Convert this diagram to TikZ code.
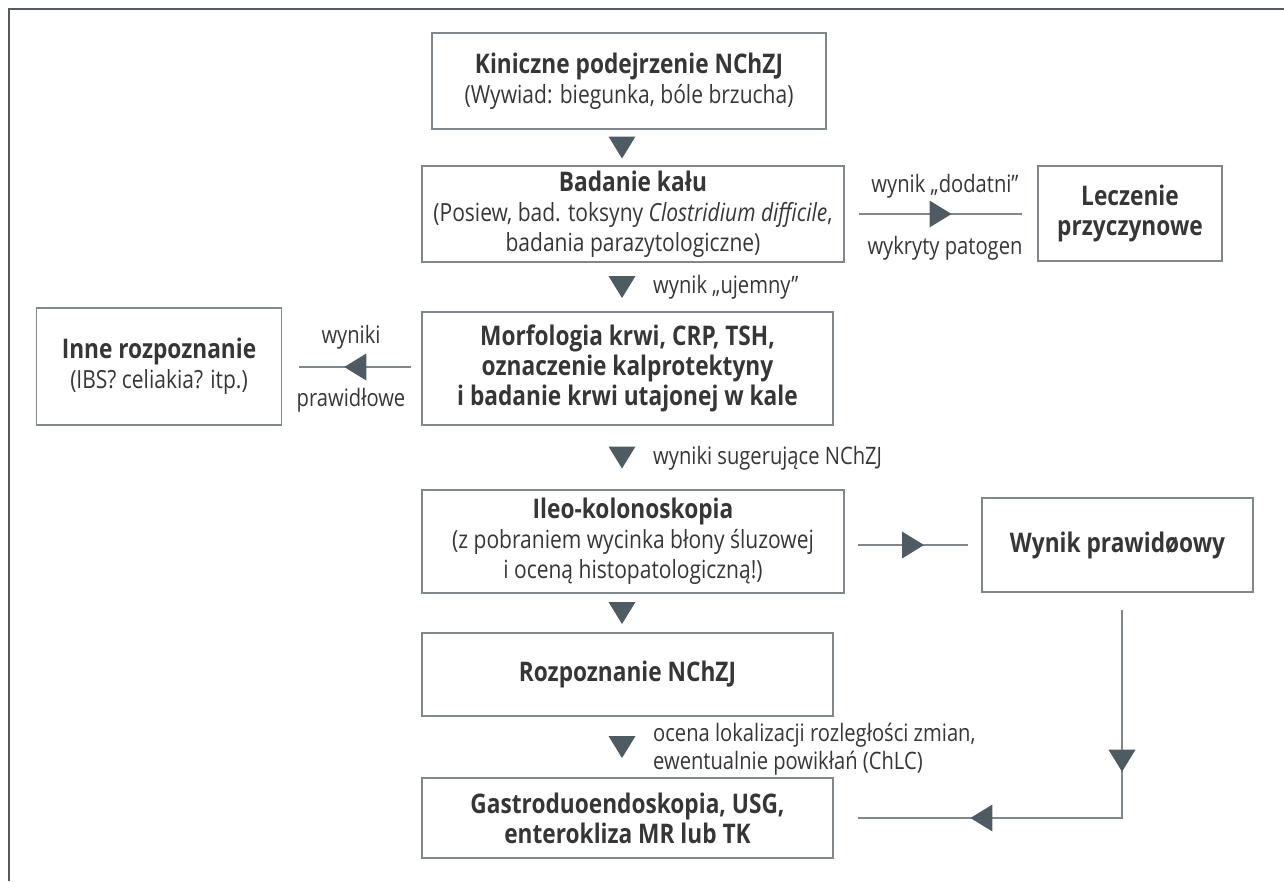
\documentclass[tikz,border=0pt]{standalone}
\usepackage{fontspec}
\setmainfont{Open Sans}[FakeStretch=0.84]
\usetikzlibrary{decorations.markings}

\definecolor{ink}{HTML}{363636}
\definecolor{edge}{HTML}{80888D}
\definecolor{tipfill}{HTML}{4F5B63}
\definecolor{framecol}{HTML}{555C61}

% bold heading lines inside the boxes
\newcommand\boxtitle[1]{{\fontsize{27}{31}\selectfont\bfseries #1}}

\tikzset{
  box/.style={draw=edge, line width=1.3pt, align=center, inner sep=0pt,
    text=ink, font=\fontsize{25}{30}\selectfont},
  lbl/.style={text=ink, inner sep=0pt, font=\fontsize{24}{28}\selectfont},
  tipmark/.style={decoration={markings, mark=at position #1 with
    {\fill[tipfill] (-11pt,-13.5pt) -- (11pt,0pt) -- (-11pt,13.5pt) -- cycle;}}},
  flow/.style={draw=edge, line width=1.3pt, postaction={decorate}, tipmark=0.5},
  gap/.style={postaction={decorate}, tipmark=0.5}
}

\begin{document}
\begin{tikzpicture}[x=1pt, y=-1pt]
\useasboundingbox (0,0) rectangle (1284,881);

% outer frame (top and left edges)
\draw[framecol, line width=2pt] (9,881) -- (9,9) -- (1284,9);

% column through the centre arrows
\coordinate (col) at (622,0);

% boxes
\node[box, minimum width=394pt, minimum height=96pt] (susp) at (629,81)
  {\boxtitle{Kiniczne podejrzenie NChZJ}\\(Wywiad: biegunka, bóle brzucha)};
\node[box, minimum width=422pt, minimum height=96pt] (stool) at (633,214)
  {\boxtitle{Badanie kału}\\(Posiew, bad. toksyny \textit{Clostridium difficile},\\badania parazytologiczne)};
\node[box, minimum width=184pt, minimum height=95pt] (treat) at (1130,213.5)
  {\boxtitle{Leczenie}\\\boxtitle{przyczynowe}};
\node[box, minimum width=411pt, minimum height=113pt] (blood) at (627.5,368.5)
  {\boxtitle{Morfologia krwi, CRP, TSH,}\\\boxtitle{oznaczenie kalprotektyny}\\\boxtitle{i badanie krwi utajonej w kale}};
\node[box, minimum width=245pt, minimum height=117pt] (other) at (159,366.5)
  {\boxtitle{Inne rozpoznanie}\\(IBS? celiakia? itp.)};
\node[box, minimum width=422pt, minimum height=103pt] (ileo) at (633,541.5)
  {\boxtitle{Ileo-kolonoskopia}\\(z pobraniem wycinka błony śluzowej\\i oceną histopatologiczną!)};
\node[box, minimum width=271pt, minimum height=94pt] (normal) at (1117.5,545)
  {\boxtitle{Wynik prawidøowy}};
\node[box, minimum width=411pt, minimum height=83pt] (diag) at (627.5,674.5)
  {\boxtitle{Rozpoznanie NChZJ}};
\node[box, minimum width=411pt, minimum height=80pt] (gastro) at (627.5,818)
  {\boxtitle{Gastroduoendoskopia, USG,}\\\boxtitle{enterokliza MR lub TK}};

% arrowheads between stacked boxes
\path[gap] (susp.south -| col) -- (stool.north -| col);
\path[gap] (stool.south -| col) -- (blood.north -| col);
\path[gap] (blood.south -| col) -- (ileo.north -| col);
\path[gap] (ileo.south -| col) -- (diag.north -| col);
\path[gap] (diag.south -| col) -- (gastro.north -| col);

% side connectors
\draw[flow] ([xshift=14pt]stool.east) -- ([xshift=-15pt]treat.west |- stool.east);
\draw[flow] ([xshift=-10pt]blood.west |- 0,367) -- ([xshift=17pt]other.east |- 0,367);
\draw[flow] ([xshift=13pt]ileo.east |- normal.west) -- ([xshift=-13pt]normal.west);

\coordinate (wtop) at (1122,610);
\coordinate (wturn) at (1122,818);
\draw[draw=edge, line width=1.3pt, postaction={decorate}, tipmark=0.319]
  (wtop) -- (wturn) -- ([xshift=24pt]gastro.east);
\path[postaction={decorate}, tipmark=0.738] (wtop) -- (wturn) -- ([xshift=24pt]gastro.east);

% connector labels
\node[lbl] (pos) at (945,186) {wynik „dodatni”};
\node[lbl] (path) at (945,248) {wykryty patogen};
\node[lbl, anchor=west] (neg) at (653,287) {wynik „ujemny”};
\node[lbl] (res) at (351,337) {wyniki};
\node[lbl] (ok) at (351,400) {prawidłowe};
\node[lbl, anchor=west] (sugg) at (653,458) {wyniki sugerujące NChZJ};
\node[lbl, anchor=west, align=left] (eval) at (653,749)
  {ocena lokalizacji rozległości zmian,\\ewentualnie powikłań (ChLC)};
\end{tikzpicture}
\end{document}
